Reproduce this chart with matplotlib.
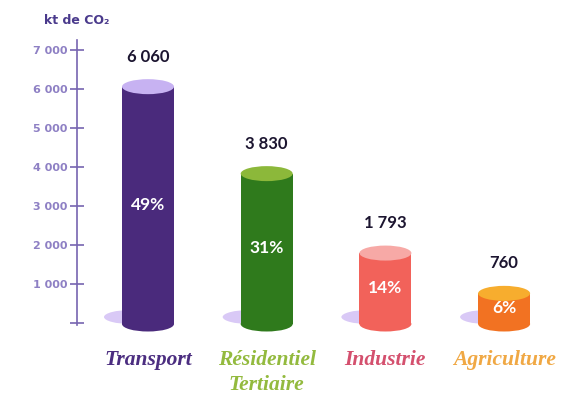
import matplotlib
matplotlib.use("Agg")
import matplotlib.pyplot as plt
from matplotlib.patches import Rectangle, Ellipse
from matplotlib.ticker import FuncFormatter

# Emissions by sector (kt CO2)
categories = ["Transport", "Résidentiel\nTertiaire", "Industrie", "Agriculture"]
values = [6060, 3830, 1793, 760]
value_labels = ["6 060", "3 830", "1 793", "760"]
shares = ["49%", "31%", "14%", "6%"]
y_ticks = [0, 1000, 2000, 3000, 4000, 5000, 6000, 7000]

body_colors = ["#4a2a7c", "#2f7a1c", "#f2625a", "#f27222"]
top_colors = ["#c7b2f2", "#8cb83a", "#f7a9a6", "#f7ad2e"]
label_colors = ["#4b2d80", "#93ba3e", "#d4506e", "#f0a844"]
shadow_color = "#d9c9f6"

W, H = 568, 394
fig = plt.figure(figsize=(W / 100, H / 100), dpi=100)
ax = fig.add_axes([0, 0, 1, 1])

# Layout in pixels -> data limits
px_per_unit_y = 273 / 7000.0
y0_px_from_bottom = H - 323
ax.set_ylim(-y0_px_from_bottom / px_per_unit_y, (H - y0_px_from_bottom) / px_per_unit_y)
x_spacing_px = 118.7
x0_px = 148.0
ax.set_xlim(-x0_px / x_spacing_px, (W - x0_px) / x_spacing_px)


def py(px_above_zero):
    """Convert a pixel offset above the zero line to data units."""
    return px_above_zero / px_per_unit_y


bar_w = 52 / x_spacing_px
ell_h = py(15)
x = list(range(len(values)))

for i, v in enumerate(values):
    # soft shadow at the base
    ax.add_patch(Ellipse((x[i] - 17 / x_spacing_px, py(6)),
                         54 / x_spacing_px, py(14),
                         color=shadow_color, lw=0, zorder=1))
    # cylinder body
    ax.add_patch(Ellipse((x[i], py(-1)), bar_w, ell_h, color=body_colors[i], lw=0, zorder=2))
    ax.add_patch(Rectangle((x[i] - bar_w / 2, py(-1)), bar_w, v - py(-1),
                           color=body_colors[i], lw=0, zorder=2))
    # cylinder top
    ax.add_patch(Ellipse((x[i], v), bar_w, ell_h, color=top_colors[i], lw=0, zorder=3))
    # value above
    ax.text(x[i], v + py(30), value_labels[i], ha="center", va="center",
            fontsize=12, fontweight="bold", color="#1c1530", family="Lato", zorder=4)
    # share inside
    ax.text(x[i], v / 2, shares[i], ha="center", va="center",
            fontsize=12.5, fontweight="bold", color="white", family="Lato", zorder=4)
    # category name, one line per text
    for j, line in enumerate(categories[i].split("\n")):
        ax.text(x[i], py(-(360 - 323) - 25 * j), line, ha="center", va="center",
                fontsize=15.5, style="italic", fontweight="bold", color=label_colors[i],
                family="Liberation Serif", zorder=4)

# Vertical axis
axis_x = (77 - x0_px) / x_spacing_px
for s in ["top", "right", "bottom"]:
    ax.spines[s].set_visible(False)
ax.spines["left"].set_position(("data", axis_x))
ax.spines["left"].set_bounds(-60, 7250)
ax.spines["left"].set_color("#7765b0")
ax.spines["left"].set_linewidth(1.2)
ax.set_yticks(y_ticks)
ax.yaxis.set_major_formatter(FuncFormatter(
    lambda v, p: "" if v == 0 else f"{int(v):,}".replace(",", " ")))
ax.tick_params(axis="y", direction="inout", length=10, width=1.2, color="#7765b0",
               labelcolor="#8e80c4", labelsize=8, pad=2)
for t in ax.get_yticklabels():
    t.set_fontweight("bold")
ax.set_xticks([])
ax.patch.set_alpha(0)

ax.text(axis_x, py(323 - 20), "kt de CO₂", ha="center", va="center",
        fontsize=9, fontweight="bold", color="#4a3a8c")

fig.savefig("out.png", dpi=100, facecolor="white")
